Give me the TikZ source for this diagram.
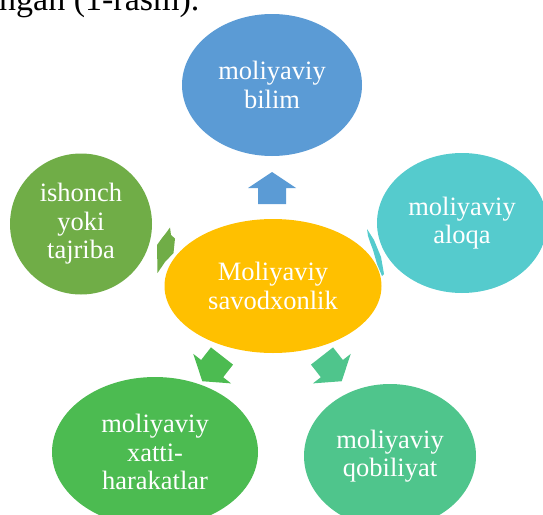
\documentclass[tikz,border=0pt]{standalone}
\usepackage{fontspec}
\setmainfont{Liberation Serif}
\usepackage{xcolor}
\definecolor{skyblue}{HTML}{5B9BD5}
\definecolor{amber}{HTML}{FFC000}
\definecolor{leafgreen}{HTML}{70AD47}
\definecolor{teal}{HTML}{55CBCD}
\definecolor{grassgreen}{HTML}{4CBB51}
\definecolor{mintgreen}{HTML}{4FC58C}
\usetikzlibrary{shapes.geometric}

\begin{document}
\begin{tikzpicture}[x=1pt,y=-1pt,
  bubble/.style={ellipse,draw=none,inner sep=0pt,outer sep=0pt,align=center,
    text=white,font=\fontsize{26.5}{28.5}\selectfont}]
  \useasboundingbox (0,0) rectangle (543,514);

  % Caption line cut by the crop
  \node[anchor=base west,inner sep=0pt,font=\fontsize{34}{40}\selectfont] (caption) at (-1,10) {ngan (1-rasm).};

  % Circles
  \node[bubble,fill=amber,minimum width=217,minimum height=134] (centre) at (273,286) {Moliyaviy\\savodxonlik};
  \node[bubble,fill=skyblue,minimum width=180,minimum height=142] (bilim) at (272,85) {moliyaviy\\bilim};
  \node[bubble,fill=teal,minimum width=170,minimum height=140] (aloqa) at (462,223) {moliyaviy\\aloqa};
  \node[bubble,fill=leafgreen,minimum width=142,minimum height=141] (ishonch) at (81,224) {ishonch\\yoki\\tajriba};
  \node[bubble,fill=grassgreen,minimum width=206,minimum height=150] (xatti) at (155,452) {moliyaviy\\xatti-\\harakatlar};
  \node[bubble,fill=mintgreen,minimum width=172,minimum height=144] (qobiliyat) at (390,456) {moliyaviy\\qobiliyat};

  % Block arrows
  \foreach \px/\py/\ang/\col in {272/204/0/skyblue, 222/356/142/grassgreen, 322/356/-142/mintgreen} {
    \fill[\col,shift={(\px,\py)},rotate=\ang] (-14,0) -- (-14,-16) -- (-24,-16) -- (0,-32) -- (24,-16) -- (14,-16) -- (14,0) -- cycle;
  }
  \fill[leafgreen] (170,227.5) -- (171,235) -- (175,238.5) -- (173.5,253) -- (165,262) -- (157.5,273) -- (157,245) -- (162,238) -- (166,233) -- cycle;
  \fill[teal] (367,229) -- (374,240) -- (381,257) -- (384,274) -- (382,276) -- (377,264) -- (373,250) -- (370,242) -- (368,236) -- cycle;
\end{tikzpicture}
\end{document}
